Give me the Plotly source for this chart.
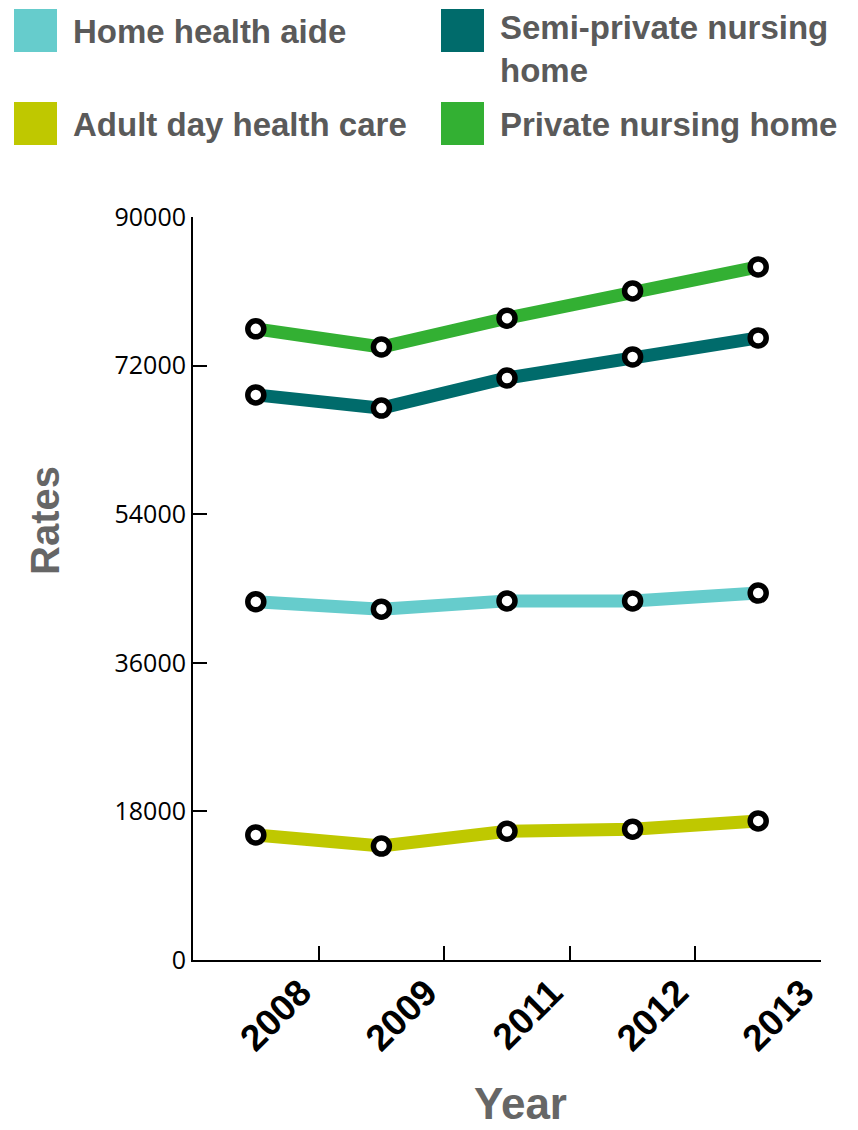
import plotly.graph_objects as go

years = ["2008", "2009", "2011", "2012", "2013"]
series_names = ["Home health aide", "Semi-private nursing<br>home", "Adult day health care", "Private nursing home"]
series_colors = ["#66CCCC", "#006B6B", "#BFC800", "#33B033"]
home_health_aide = [43400, 42500, 43500, 43500, 44450]
semi_private = [68450, 66850, 70500, 73050, 75350]
adult_day = [15150, 13800, 15600, 15850, 16850]
private_home = [76450, 74250, 77750, 81050, 83950]
series_values = [home_health_aide, semi_private, adult_day, private_home]
y_ticks = [0, 18000, 36000, 54000, 72000, 90000]

OFF = 8  # page body margin
# target screen positions of plot area
SL, SR, ST, SB = 193, 821, 217, 960
L, T = SL - OFF, ST - OFF
pw, ph = SR - SL, SB - ST
R, B = 37, 170
W, H = L + pw + R, T + ph + B

def px(x):
    return (x - SL) / pw

def py(y):
    return (SB - y) / ph

x_idx = list(range(len(years)))
BOLD = "Liberation Sans, Arial, sans-serif"

fig = go.Figure()
for name, color, vals in zip(series_names, series_colors, series_values):
    fig.add_trace(go.Scatter(
        x=x_idx, y=vals, mode="lines+markers", name=name,
        line=dict(color=color, width=13),
        marker=dict(size=16, color="white", line=dict(color="black", width=5.5)),
        showlegend=False, cliponaxis=False,
    ))

# custom legend
legend_pos = [(14, 9), (441, 9), (14, 102), (441, 102)]
shapes = []
annotations = []
for (lx, ly), name, color in zip(legend_pos, series_names, series_colors):
    shapes.append(dict(type="rect", xref="paper", yref="paper",
                       x0=px(lx), x1=px(lx + 43), y0=py(ly), y1=py(ly + 43),
                       fillcolor=color, line=dict(width=0)))
    annotations.append(dict(xref="paper", yref="paper", x=px(lx + 57), y=py(ly + 22),
                            xanchor="left", yanchor="middle" if "<br>" not in name else "top",
                            yshift=0 if "<br>" not in name else 24,
                            align="left",
                            text="<b>" + name + "</b>", showarrow=False,
                            font=dict(family=BOLD, size=33, color="#5A5A5A")))

annotations.append(dict(xref="paper", yref="paper", x=px(520), y=py(1103),
                        xanchor="center", yanchor="middle", text="<b>Year</b>",
                        showarrow=False, font=dict(family=BOLD, size=44, color="#666666")))
annotations.append(dict(xref="paper", yref="paper", x=px(45), y=py(521),
                        xanchor="center", yanchor="middle", text="<b>Rates</b>", textangle=-90,
                        showarrow=False, font=dict(family=BOLD, size=40, color="#666666")))

fig.update_layout(
    width=W, height=H,
    margin=dict(l=L, r=R, t=T, b=B, pad=0),
    paper_bgcolor="white", plot_bgcolor="white",
    shapes=shapes, annotations=annotations,
)
fig.update_xaxes(
    range=[-0.5, len(years) - 0.5],
    tickvals=[i + 0.5 for i in x_idx], ticktext=["<b>" + y + "</b>" for y in years],
    tickangle=-45, ticks="inside", ticklen=14, tickwidth=2, tickcolor="black",
    ticklabelshift=-18, ticklabelstandoff=-6,
    showline=True, linecolor="black", linewidth=2, showgrid=False, zeroline=False,
    tickfont=dict(family=BOLD, size=37, color="black"),
)
fig.update_yaxes(
    range=[0, 90000], tickvals=y_ticks, ticktext=[str(v) for v in y_ticks],
    ticks="inside", ticklen=14, tickwidth=2, tickcolor="black",
    showline=True, linecolor="black", linewidth=2, showgrid=False, zeroline=False,
    tickfont=dict(family="Open Sans, Noto Sans, sans-serif", size=25, color="black"),
)

fig.write_html("out.html")
